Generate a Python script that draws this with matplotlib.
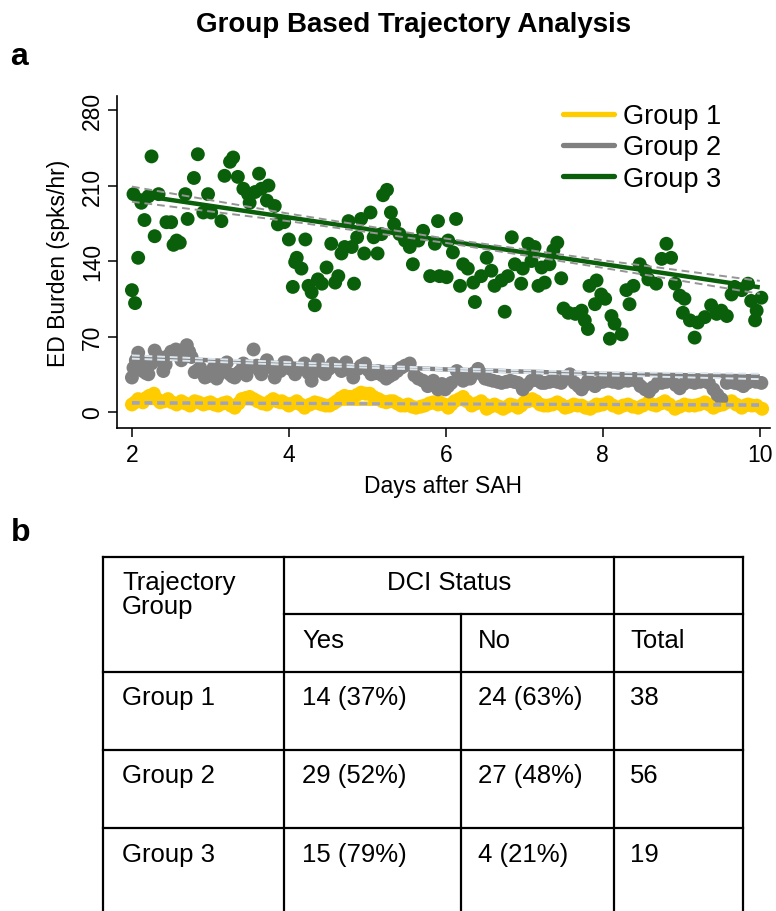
import numpy as np
import matplotlib
matplotlib.use('Agg')
import matplotlib.pyplot as plt
from matplotlib.lines import Line2D

plt.rcParams['font.family'] = ['Liberation Sans', 'DejaVu Sans']

# ---------------- data ----------------
g3_day = [2.00, 2.02, 2.04, 2.08, 2.12, 2.16, 2.21, 2.25, 2.29, 2.34, 2.44, 2.50, 2.53, 2.57, 2.61,
          2.68, 2.71, 2.79, 2.84, 2.91, 2.97, 3.01, 3.14, 3.18, 3.25, 3.29, 3.35, 3.42, 3.48, 3.50,
          3.57, 3.62, 3.65, 3.72, 3.74, 3.82, 3.86, 3.94, 4.00, 4.05, 4.08, 4.10, 4.16, 4.21, 4.25,
          4.29, 4.33, 4.37, 4.42, 4.48, 4.54, 4.59, 4.63, 4.67, 4.71, 4.76, 4.80, 4.83, 4.87, 4.92,
          4.96, 5.04, 5.08, 5.13, 5.18, 5.20, 5.25, 5.30, 5.34, 5.41, 5.48, 5.54, 5.58, 5.65, 5.71,
          5.80, 5.86, 5.90, 5.92, 6.01, 6.03, 6.09, 6.13, 6.18, 6.22, 6.28, 6.35, 6.37, 6.45, 6.52,
          6.58, 6.62, 6.71, 6.75, 6.79, 6.84, 6.88, 6.96, 6.98, 7.05, 7.09, 7.13, 7.18, 7.22, 7.26,
          7.32, 7.37, 7.42, 7.47, 7.50, 7.56, 7.65, 7.73, 7.77, 7.81, 7.83, 7.90, 7.92, 7.98, 8.03,
          8.09, 8.11, 8.15, 8.24, 8.30, 8.34, 8.39, 8.47, 8.54, 8.58, 8.68, 8.75, 8.81, 8.87, 8.92,
          8.98, 9.02, 9.04, 9.11, 9.17, 9.21, 9.30, 9.38, 9.45, 9.51, 9.58, 9.64, 9.68, 9.77, 9.85,
          9.89, 9.94, 9.96, 10.02]
g3_val = [113, 202, 101, 143, 194, 178, 200, 237, 163, 202, 176, 176, 155, 159, 157,
          202, 179, 217, 239, 185, 202, 185, 177, 219, 232, 236, 218, 207, 202, 194,
          204, 221, 207, 196, 210, 191, 174, 176, 160, 116, 139, 143, 133, 160, 117,
          111, 99, 123, 119, 134, 156, 120, 126, 147, 153, 177, 153, 119, 162, 179,
          147, 185, 162, 147, 165, 201, 206, 185, 174, 165, 159, 153, 137, 159, 168,
          126, 156, 177, 126, 125, 159, 148, 179, 117, 137, 133, 120, 102, 126, 143,
          131, 117, 122, 93, 126, 162, 137, 119, 133, 156, 140, 153, 117, 134, 120,
          137, 150, 157, 124, 96, 92, 91, 94, 85, 77, 117, 100, 122, 109, 105,
          68, 89, 82, 72, 113, 100, 117, 137, 131, 123, 119, 142, 156, 143, 119,
          108, 92, 105, 85, 69, 83, 88, 99, 91, 94, 89, 109, 116, 113, 119,
          103, 85, 94, 106]

g2_day = [2.00, 2.02, 2.05, 2.08, 2.11, 2.14, 2.18, 2.21, 2.25, 2.29, 2.33, 2.36, 2.40, 2.43, 2.46,
          2.50, 2.53, 2.56, 2.59, 2.63, 2.67, 2.70, 2.73, 2.76, 2.80, 2.84, 2.87, 2.90, 2.93, 2.96,
          2.99, 3.04, 3.08, 3.11, 3.14, 3.18, 3.21, 3.25, 3.28, 3.31, 3.35, 3.38, 3.42, 3.46, 3.50,
          3.55, 3.59, 3.62, 3.65, 3.69, 3.72, 3.78, 3.82, 3.86, 3.89, 3.94, 3.97, 4.02, 4.08, 4.14,
          4.20, 4.25, 4.29, 4.35, 4.37, 4.42, 4.46, 4.51, 4.56, 4.62, 4.67, 4.73, 4.78, 4.82, 4.88,
          4.92, 4.97, 5.01, 5.05, 5.10, 5.14, 5.19, 5.24, 5.28, 5.33, 5.38, 5.43, 5.48, 5.54, 5.60,
          5.65, 5.71, 5.77, 5.84, 5.90, 5.95, 5.99, 6.03, 6.07, 6.14, 6.18, 6.22, 6.27, 6.31, 6.36,
          6.41, 6.46, 6.50, 6.55, 6.60, 6.66, 6.71, 6.77, 6.82, 6.87, 6.92, 6.98, 7.03, 7.09, 7.14,
          7.18, 7.22, 7.26, 7.32, 7.37, 7.42, 7.47, 7.53, 7.58, 7.64, 7.69, 7.73, 7.77, 7.81, 7.86,
          7.90, 7.94, 8.00, 8.07, 8.13, 8.20, 8.26, 8.32, 8.38, 8.43, 8.48, 8.54, 8.59, 8.64, 8.70,
          8.75, 8.81, 8.88, 8.93, 8.98, 9.03, 9.07, 9.12, 9.17, 9.24, 9.30, 9.35, 9.41, 9.46, 9.51,
          9.58, 9.63, 9.68, 9.74, 9.79, 9.84, 9.89, 9.95, 10.02]
g2_val = [32, 41, 48, 55, 46, 38, 36, 35, 45, 57, 52, 48, 38, 44, 52,
          56, 54, 58, 57, 48, 55, 62, 56, 51, 37, 39, 41, 36, 32, 33,
          34, 41, 31, 35, 38, 44, 46, 35, 33, 32, 36, 38, 45, 34, 42,
          58, 43, 39, 35, 42, 48, 41, 32, 38, 38, 46, 46, 40, 35, 40,
          45, 36, 29, 38, 48, 41, 35, 40, 45, 42, 38, 46, 39, 32, 40,
          43, 45, 39, 35, 36, 38, 34, 31, 33, 35, 38, 41, 43, 45, 34,
          31, 29, 24, 29, 21, 26, 21, 24, 27, 38, 33, 29, 31, 31, 36,
          40, 35, 31, 30, 29, 28, 27, 28, 29, 28, 27, 21, 25, 29, 31,
          29, 27, 27, 28, 29, 28, 27, 31, 35, 27, 24, 21, 25, 29, 27,
          24, 27, 28, 29, 28, 27, 29, 29, 30, 29, 24, 21, 19, 23, 27,
          27, 28, 29, 25, 22, 26, 29, 28, 27, 28, 29, 27, 21, 16, 12,
          27, 28, 27, 26, 24, 27, 29, 28, 27]

g1_day = [2.00, 2.04, 2.08, 2.11, 2.14, 2.18, 2.22, 2.28, 2.32, 2.36, 2.41, 2.46, 2.51, 2.57, 2.63,
          2.68, 2.74, 2.80, 2.85, 2.91, 2.96, 3.00, 3.05, 3.10, 3.16, 3.21, 3.26, 3.31, 3.36, 3.40,
          3.45, 3.50, 3.55, 3.60, 3.66, 3.72, 3.76, 3.80, 3.85, 3.89, 3.91, 3.96, 4.00, 4.05, 4.10,
          4.15, 4.20, 4.27, 4.33, 4.38, 4.42, 4.47, 4.52, 4.57, 4.61, 4.66, 4.71, 4.77, 4.82, 4.87,
          4.92, 4.98, 5.03, 5.08, 5.14, 5.19, 5.24, 5.29, 5.33, 5.38, 5.43, 5.48, 5.52, 5.57, 5.62,
          5.68, 5.73, 5.79, 5.84, 5.90, 5.92, 5.98, 6.03, 6.07, 6.11, 6.17, 6.22, 6.27, 6.33, 6.39,
          6.45, 6.50, 6.52, 6.57, 6.62, 6.68, 6.73, 6.78, 6.82, 6.87, 6.92, 6.96, 7.00, 7.05, 7.10,
          7.15, 7.20, 7.25, 7.30, 7.36, 7.42, 7.47, 7.52, 7.57, 7.63, 7.68, 7.73, 7.78, 7.84, 7.88,
          7.92, 7.94, 8.00, 8.07, 8.13, 8.20, 8.26, 8.32, 8.38, 8.45, 8.51, 8.58, 8.63, 8.68, 8.74,
          8.79, 8.85, 8.92, 8.98, 9.04, 9.10, 9.17, 9.23, 9.30, 9.35, 9.41, 9.47, 9.53, 9.58, 9.64,
          9.70, 9.77, 9.81, 9.85, 9.90, 9.96, 10.03]
g1_val = [7, 9, 12, 10, 9, 13, 15, 17, 12, 9, 10, 12, 9, 7, 10,
          8, 6, 10, 9, 7, 8, 9, 7, 6, 8, 9, 6, 4, 8, 12,
          13, 14, 12, 10, 8, 7, 10, 12, 10, 9, 10, 8, 6, 8, 10,
          7, 4, 7, 9, 8, 7, 6, 6, 8, 10, 13, 15, 14, 14, 16,
          18, 17, 17, 14, 12, 10, 9, 10, 10, 8, 6, 6, 7, 5, 4,
          5, 6, 8, 9, 7, 9, 7, 4, 7, 10, 12, 14, 10, 6, 8,
          10, 7, 3, 5, 7, 5, 3, 5, 7, 6, 4, 6, 9, 10, 12,
          10, 7, 6, 6, 7, 9, 7, 4, 5, 7, 6, 6, 4, 3, 5,
          7, 6, 7, 9, 6, 4, 6, 7, 5, 4, 6, 9, 7, 6, 8,
          10, 7, 3, 5, 7, 6, 6, 7, 9, 7, 4, 6, 7, 9, 10,
          7, 4, 6, 7, 6, 6, 3]

fit_day = [2, 4, 6, 8, 10]
g1_fit = [8.5, 8.0, 7.5, 7.0, 6.5]
g1_ci = [0.8, 0.6, 0.5, 0.6, 0.8]
g2_fit = [51, 45, 39.5, 35.5, 33]
g2_ci = [1.5, 1.2, 1.0, 1.5, 2.5]
g3_fit = [202, 180.4, 158.8, 137.2, 115.6]
g3_ci = [7, 3.5, 2, 3.5, 6]

group_names = ['Group 1', 'Group 2', 'Group 3']
x_ticks = [2, 4, 6, 8, 10]
y_ticks = [0, 70, 140, 210, 280]

tbl_groups = ['Group 1', 'Group 2', 'Group 3']
tbl_yes = ['14 (37%)', '29 (52%)', '15 (79%)']
tbl_no = ['24 (63%)', '27 (48%)', '4 (21%)']
tbl_total = ['38', '56', '19']

# ---------------- figure ----------------
W, H = 776, 912
fig = plt.figure(figsize=(W / 100, H / 100), dpi=100)


def fx(x):
    return x / W


def fy(y):
    return 1 - y / H


c1, c2, c3 = '#ffcc00', '#808080', '#0a5f0a'

ax = fig.add_axes([fx(117), fy(429), (770 - 117) / W, (429 - 97) / H])
ax.set_xlim(1.81, 10.13)
ax.set_ylim(-14.8, 293)

ms = 100
ax.scatter(g1_day, g1_val, s=ms, color=c1, edgecolors='none', zorder=2)
ax.scatter(g2_day, g2_val, s=ms, color=c2, edgecolors='none', zorder=3)
ax.scatter(g3_day, g3_val, s=ms, color=c3, edgecolors='none', zorder=4)

fd = np.array(fit_day, dtype=float)
for fit, ci, col, dcol in [(g1_fit, g1_ci, c1, '#9ea3c4'),
                           (g2_fit, g2_ci, c2, '#dce6ee'),
                           (g3_fit, g3_ci, c3, '#959595')]:
    f = np.array(fit, dtype=float)
    e = np.array(ci, dtype=float)
    ax.plot(fd, f, color=col, lw=3.2, zorder=5, solid_capstyle='butt')
    ax.plot(fd, f + e, color=dcol, lw=1.4, ls=(0, (4, 2.5)), zorder=6)
    ax.plot(fd, f - e, color=dcol, lw=1.4, ls=(0, (4, 2.5)), zorder=6)

for s in ['top', 'right']:
    ax.spines[s].set_visible(False)
for s in ['left', 'bottom']:
    ax.spines[s].set_linewidth(1.2)
ax.set_xticks(x_ticks)
ax.set_yticks(y_ticks)
ax.tick_params(axis='both', length=6.5, width=1.1, labelsize=16.5, pad=4)
ax.tick_params(axis='y', labelrotation=90, pad=3)
for lab in ax.get_yticklabels():
    lab.set_va('center')

ax.set_xlabel('Days after SAH', fontsize=16.5, labelpad=6)
ax.set_ylabel('ED Burden (spks/hr)', fontsize=16.5, labelpad=8)

handles = [Line2D([], [], color=c, lw=3.8, solid_capstyle='round') for c in (c1, c2, c3)]
leg = ax.legend(handles, group_names, loc='upper left',
                bbox_to_anchor=(fx(563), fy(104)), bbox_transform=fig.transFigure,
                frameon=False, fontsize=19.5, handlelength=1.9, handletextpad=0.33,
                labelspacing=0.2, borderpad=0, borderaxespad=0)

# titles and panel letters
fig.text(fx(414), fy(25), 'Group Based Trajectory Analysis', ha='center', va='center',
         fontsize=20, fontweight='bold')
fig.text(fx(19), fy(57), 'a', ha='center', va='center', fontsize=23, fontweight='bold')
fig.text(fx(21), fy(533), 'b', ha='center', va='center', fontsize=23, fontweight='bold')

# ---------------- table ----------------
tx = fig.add_axes([0, 0, 1, 1], zorder=-1)
tx.set_xlim(0, W)
tx.set_ylim(H, 0)
tx.axis('off')
lw = 1.6
cols = [103, 284, 461, 614, 743]
bottom = H + 5
tx.plot([cols[0], cols[-1]], [558, 558], color='black', lw=lw)
tx.plot([cols[1], cols[-1]], [615, 615], color='black', lw=lw)
for yy in [673, 751, 829]:
    tx.plot([cols[0], cols[-1]], [yy, yy], color='black', lw=lw)
for xx in [cols[0], cols[1], cols[3], cols[4]]:
    tx.plot([xx, xx], [558, bottom], color='black', lw=lw)
tx.plot([cols[2], cols[2]], [615, bottom], color='black', lw=lw)

tfs = 18.5
tx.text(122, 583, 'Trajectory', ha='left', va='center', fontsize=tfs)
tx.text(122, 607, 'Group', ha='left', va='center', fontsize=tfs)
tx.text((cols[1] + cols[3]) / 2, 583, 'DCI Status', ha='center', va='center', fontsize=tfs)
tx.text(302, 641, 'Yes', ha='left', va='center', fontsize=tfs)
tx.text(478, 641, 'No', ha='left', va='center', fontsize=tfs)
tx.text(630, 641, 'Total', ha='left', va='center', fontsize=tfs)
for i, yy in enumerate([698, 776, 855]):
    tx.text(122, yy, tbl_groups[i], ha='left', va='center', fontsize=tfs)
    tx.text(302, yy, tbl_yes[i], ha='left', va='center', fontsize=tfs)
    tx.text(478, yy, tbl_no[i], ha='left', va='center', fontsize=tfs)
    tx.text(630, yy, tbl_total[i], ha='left', va='center', fontsize=tfs)

fig.savefig('out.png', dpi=100)
